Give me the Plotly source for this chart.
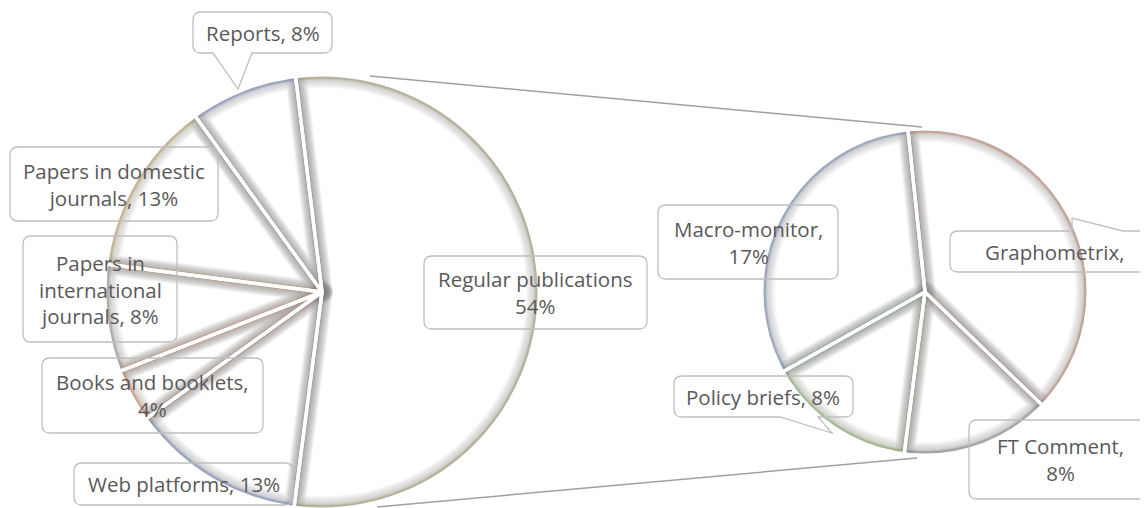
import plotly.graph_objects as go

# ---------------- data ----------------
main_labels = ["Regular publications", "Web platforms", "Books and booklets",
               "Papers in international journals", "Papers in domestic journals", "Reports"]
main_values = [54, 13, 4, 8, 13, 8]          # percent of all outputs
sub_labels = ["Graphometrix", "FT Comment", "Policy briefs", "Macro-monitor"]
sub_values = [21, 8, 8, 17]                  # split of "Regular publications"

main_label_fmt = ["Regular publications<br>{}%", "Web platforms, {}%", "Books and booklets,<br>{}%",
                  "Papers in<br>international<br>journals, {}%", "Papers in domestic<br>journals, {}%",
                  "Reports, {}%"]
sub_label_fmt = ["Graphometrix,", "FT Comment,<br>{}%", "Policy briefs, {}%", "Macro-monitor,<br>{}%"]

# ---------------- layout constants ----------------
OFF = 8                       # page body margin
W, H = 1148, 508
def px(x): return (x - OFF) / W
def py(y): return 1 - (y - OFF) / H

MAIN_C, MAIN_R = (322, 292), 215
SUB_C, SUB_R = (925, 292), 161

main_tint = [(150, 138, 100), (95, 110, 160), (200, 115, 60), (140, 130, 115), (175, 150, 85), (95, 110, 165)]
sub_tint = [(170, 110, 95), (115, 115, 125), (110, 155, 80), (100, 122, 160)]

def domain(c, r):
    return dict(x=[px(c[0] - r), px(c[0] + r)], y=[py(c[1] + r), py(c[1] - r)])

GRAY = (115, 115, 115)
# soft inner shadow built from stacked translucent strokes: (half-width, alpha, tint share)
layers = [(hw, 0.042, (11 - hw) / 10) for hw in range(11, 0, -1)] + [(2.5, 0.2, 1.0), (1.5, 0.25, 1.0)]

def mix(t, s):
    return tuple(round(GRAY[k] * (1 - s) + t[k] * s) for k in range(3))

fig = go.Figure()

def add_pie(labels, values, tints, c, r, rot):
    dom = domain(c, r)
    for i, (hw, a, s) in enumerate(layers):
        cols = [f"rgba({m[0]},{m[1]},{m[2]},{a})" for m in (mix(t, s) for t in tints)]
        fig.add_trace(go.Pie(
            labels=labels, values=values, sort=False, direction="clockwise", rotation=rot,
            domain=dom, textinfo="none", hoverinfo="label+percent" if i == 0 else "skip", showlegend=False,
            marker=dict(colors=["white" if i == 0 else "rgba(0,0,0,0)"] * len(values),
                        line=dict(color=cols, width=2 * hw))))
    # white gaps between slices (drawn on a slightly larger pie so the arc stays shaded)
    fig.add_trace(go.Pie(
        labels=labels, values=values, sort=False, direction="clockwise", rotation=rot,
        domain=domain(c, r + 5), textinfo="none", hoverinfo="skip", showlegend=False,
        marker=dict(colors=["rgba(0,0,0,0)"] * len(values), line=dict(color="white", width=3.5))))

add_pie(main_labels, main_values, main_tint, MAIN_C, MAIN_R, -7)
add_pie(sub_labels, sub_values, sub_tint, SUB_C, SUB_R, -6)

shapes = []
# white rings hide the outer half of the shading strokes
for c, r in [(MAIN_C, MAIN_R), (SUB_C, SUB_R)]:
    rr = r + 12.5
    shapes.append(dict(type="circle", xref="paper", yref="paper", xsizemode="pixel", ysizemode="pixel",
                       xanchor=px(c[0]), yanchor=py(c[1]), x0=-rr, x1=rr, y0=-rr, y1=rr,
                       line=dict(color="white", width=24), fillcolor="rgba(0,0,0,0)", layer="above"))

# connector lines between the pies
for (x0, y0), (x1, y1) in [((370, 76), (922, 127)), ((377, 507), (917, 458))]:
    shapes.append(dict(type="line", xref="paper", yref="paper", x0=px(x0), y0=py(y0), x1=px(x1), y1=py(y1),
                       line=dict(color="#a0a0a0", width=1.5), layer="above"))

def box_path(x0, y0, x1, y1, r=8, bottom_ptr=None, top_ptr=None):
    P = lambda x, y: f"{px(x):.5f},{py(y):.5f}"
    s = f"M {P(x0 + r, y0)} "
    if top_ptr:
        b0, b1, tx, ty = top_ptr
        s += f"L {P(b0, y0)} L {P(tx, ty)} L {P(b1, y0)} "
    s += f"L {P(x1 - r, y0)} Q {P(x1, y0)} {P(x1, y0 + r)} L {P(x1, y1 - r)} Q {P(x1, y1)} {P(x1 - r, y1)} "
    if bottom_ptr:
        b0, b1, tx, ty = bottom_ptr
        s += f"L {P(b1, y1)} L {P(tx, ty)} L {P(b0, y1)} "
    s += f"L {P(x0 + r, y1)} Q {P(x0, y1)} {P(x0, y1 - r)} L {P(x0, y0 + r)} Q {P(x0, y0)} {P(x0 + r, y0)} Z"
    return s

# label boxes: (x0, y0, x1, y1, bottom pointer, top pointer, text x)
main_boxes = [
    (424, 256, 647, 329, None, None, None),
    (74, 463, 293, 505, None, None, None),
    (42, 358, 263, 433, None, None, None),
    (23, 236, 177, 342, None, None, None),
    (10, 147, 218, 221, None, None, None),
    (193, 12, 332, 53, (213, 252, 238, 89), None, None),
]
sub_boxes = [
    (950, 231, 1175, 272, None, (1072, 1123, 1072, 218), 1055),
    (969, 420, 1147, 499, None, None, 1060),
    (674, 376, 853, 417, (780, 818, 832, 433), None, None),
    (658, 205, 838, 279, None, None, None),
]

annotations = []
def add_labels(boxes, fmts, values):
    for (x0, y0, x1, y1, bp, tp, tx), f, v in zip(boxes, fmts, values):
        shapes.append(dict(type="path", xref="paper", yref="paper", path=box_path(x0, y0, x1, y1, 8, bp, tp),
                           line=dict(color="#bfbfbf", width=1.3), fillcolor="rgba(0,0,0,0)", layer="above"))
        cx = tx if tx is not None else (x0 + x1) / 2
        annotations.append(dict(x=px(cx), y=py((y0 + y1) / 2), xref="paper", yref="paper",
                                text=f.format(v), showarrow=False, xanchor="center", yanchor="middle",
                                align="center", font=dict(family="Open Sans", size=20.5, color="#595959")))

add_labels(main_boxes, main_label_fmt, main_values)
add_labels(sub_boxes, sub_label_fmt, sub_values)

fig.update_layout(width=W, height=H, margin=dict(l=0, r=0, t=0, b=0),
                  paper_bgcolor="white", plot_bgcolor="white",
                  shapes=shapes, annotations=annotations, showlegend=False)

fig.write_html("out.html")
